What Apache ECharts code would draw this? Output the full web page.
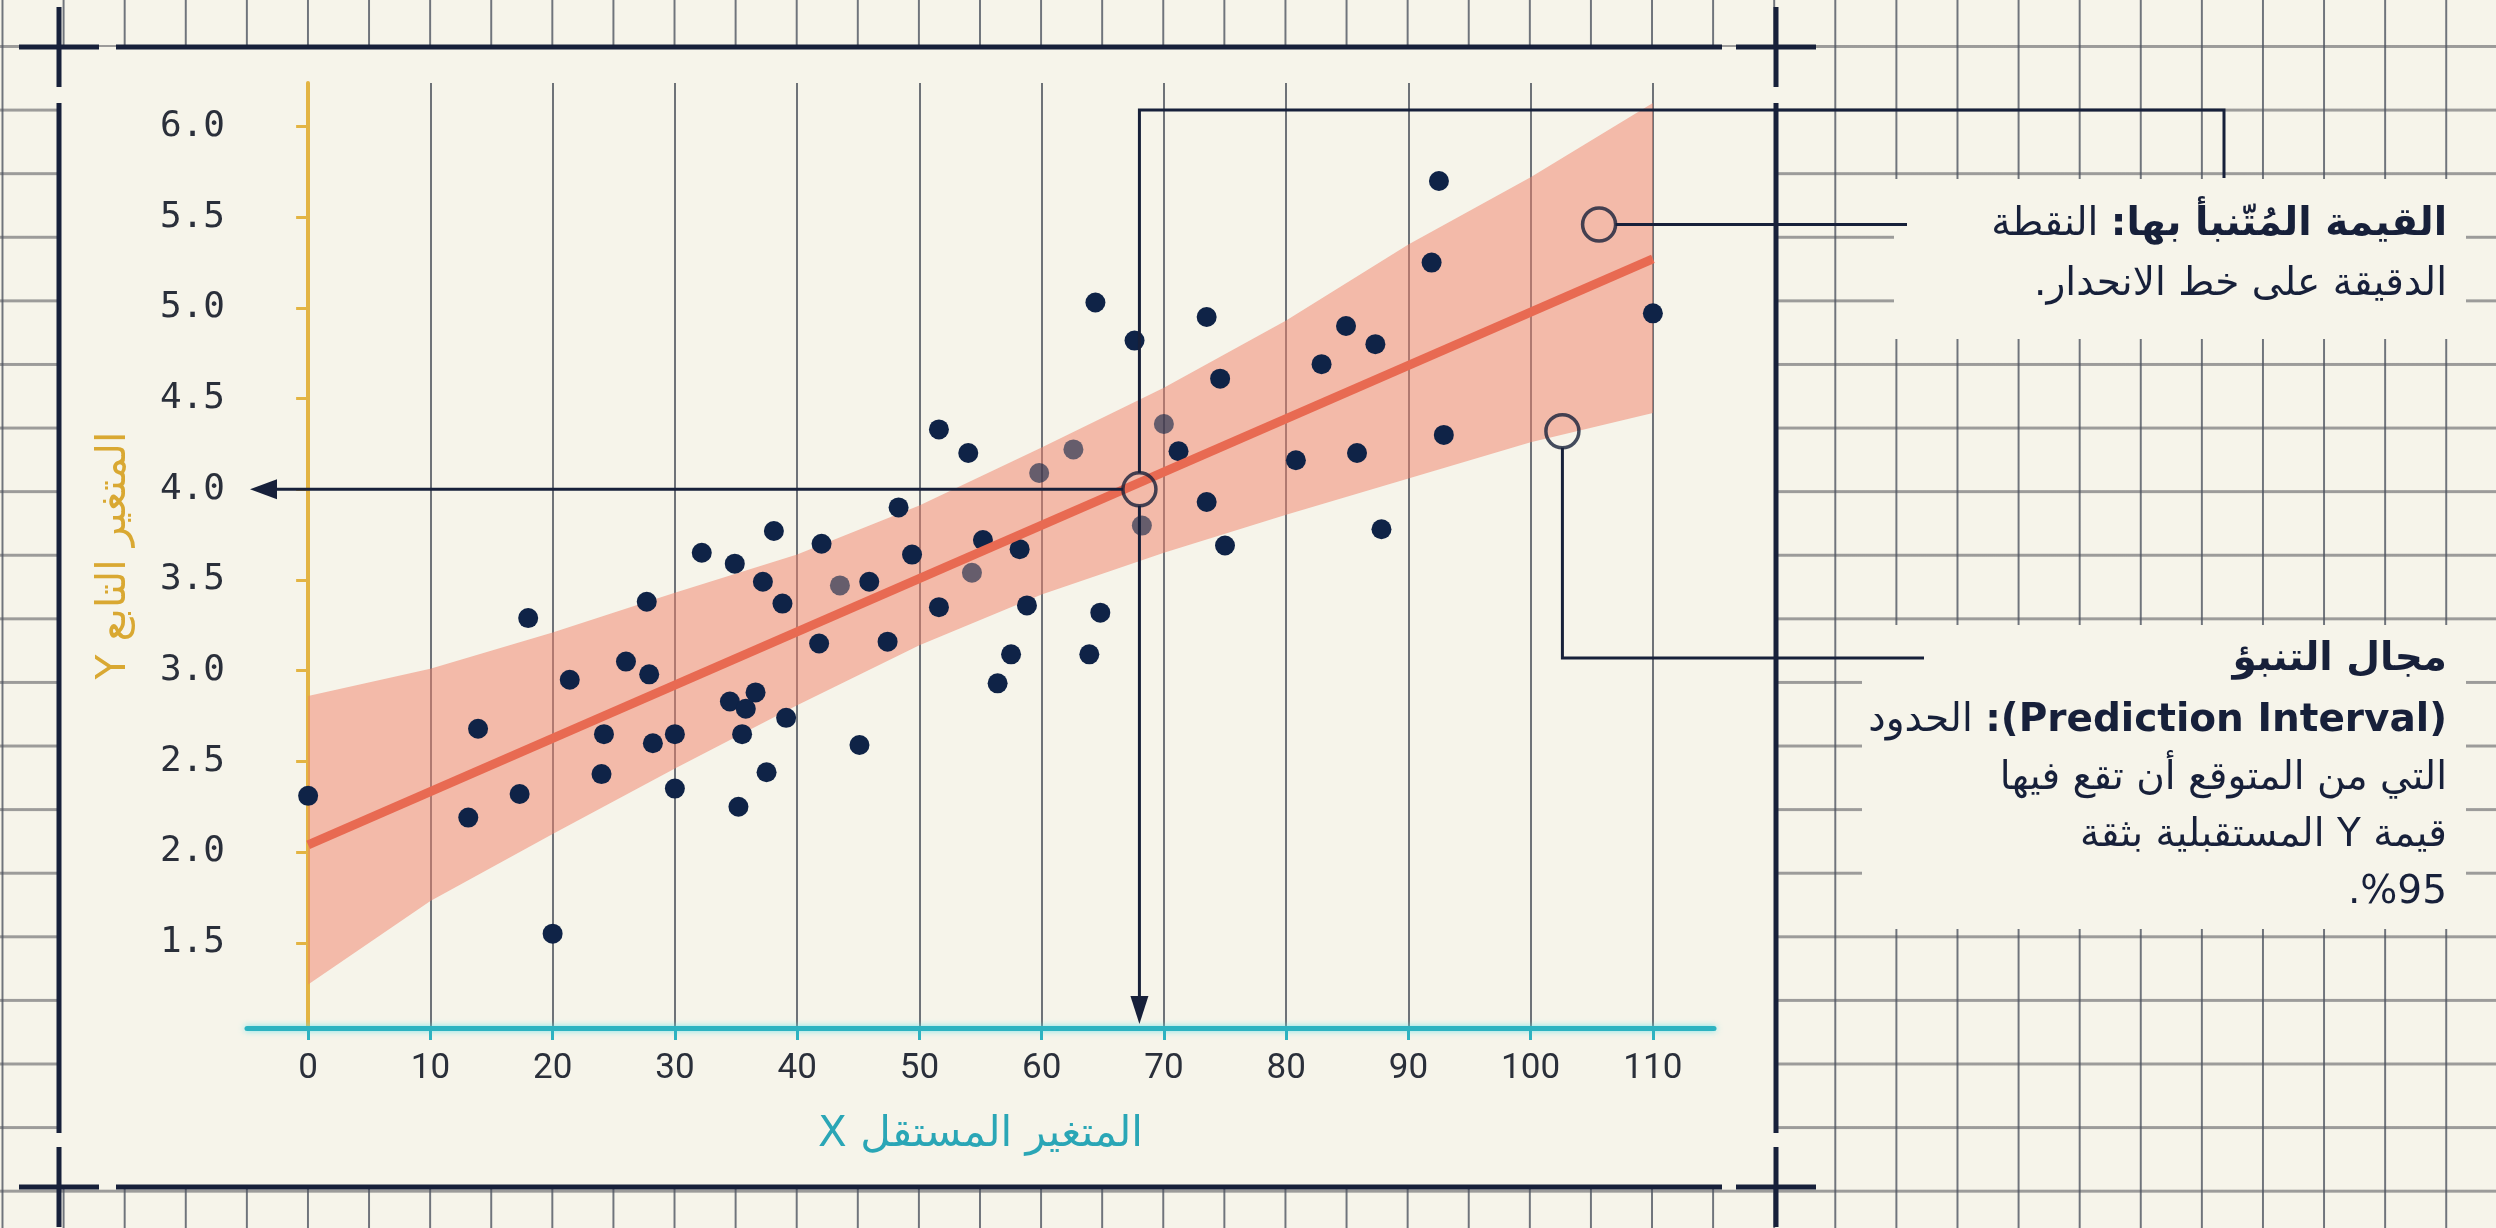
<!DOCTYPE html>
<html>
<head>
<meta charset="utf-8">
<script src="https://cdn.jsdelivr.net/npm/echarts@6/dist/echarts.min.js"></script>
<style>
  html, body { margin: 0; padding: 0; }
  body {
    width: 2496px; height: 1228px; overflow: hidden;
    background-color: #F6F4EA;
    background-image:
      linear-gradient(to right, rgba(78, 84, 96, 0.8) 2px, transparent 2px),
      linear-gradient(to bottom, rgba(140, 140, 140, 0.85) 3px, transparent 3px);
    background-size: 61.1px 63.6px;
    background-position: 1.5px 45px;
  }
  #chart { width: 2496px; height: 1228px; }
</style>
</head>
<body>
<div id="chart" dir="rtl"></div>
<script>
// observed points
const scatterX = [0, 13.1, 13.9, 17.3, 18, 20, 21.4, 24, 24.2, 26, 27.7, 27.9, 28.2,
  30, 30, 32.2, 34.5, 34.9, 35.2, 35.5, 35.8, 36.6, 37.2, 37.5, 38.1, 38.8, 39.1,
  41.8, 42, 45.1, 45.9, 47.4, 48.3, 49.4, 51.6, 51.6, 54, 55.2, 56.4, 57.5, 58.2, 58.8,
  63.9, 64.4, 64.8, 67.6, 71.2, 73.5, 73.5, 74.6, 75, 80.8, 82.9, 84.9, 85.8, 87.3, 87.8,
  91.9, 92.5, 92.9, 110];
const scatterY = [2.31, 2.19, 2.68, 2.32, 3.29, 1.55, 2.95, 2.43, 2.65, 3.05, 3.38, 2.98, 2.60,
  2.65, 2.35, 3.65, 2.83, 3.59, 2.25, 2.65, 2.79, 2.88, 3.49, 2.44, 3.77, 3.37, 2.74,
  3.15, 3.70, 2.59, 3.49, 3.16, 3.90, 3.64, 4.33, 3.35, 4.20, 3.72, 2.93, 3.09, 3.67, 3.36,
  3.09, 5.03, 3.32, 4.82, 4.21, 4.95, 3.93, 4.61, 3.69, 4.16, 4.69, 4.90, 4.20, 4.80, 3.78,
  5.25, 5.70, 4.30, 4.97];
// points that look faded in the picture
const fadedX = [43.5, 54.3, 59.8, 62.6, 68.2, 70];
const fadedY = [3.47, 3.54, 4.09, 4.22, 3.80, 4.36];

// regression line
const regX = [0, 110];
const regY = [2.04, 5.27];

// 95% prediction interval
const bandX = [0, 10, 20, 30, 40, 50, 60, 70, 80, 90, 100, 110];
const bandLower = [1.27, 1.73, 2.10, 2.46, 2.81, 3.14, 3.42, 3.65, 3.86, 4.06, 4.26, 4.42];
const bandUpper = [2.86, 3.01, 3.21, 3.43, 3.64, 3.91, 4.23, 4.56, 4.93, 5.35, 5.72, 6.13];

// predicted point and the two callout markers
const predX = 68;
const predY = 4.0;
const calloutX = [105.6, 102.6];
const calloutY = [5.46, 4.32];

const xTicks = [0, 10, 20, 30, 40, 50, 60, 70, 80, 90, 100, 110];
const yTicks = [1.5, 2.0, 2.5, 3.0, 3.5, 4.0, 4.5, 5.0, 5.5, 6.0];
const xMin = -5, xMax = 115, yMin = 1.03, yMax = 6.24;

const navy = '#17203A';
const cream = '#F6F4EA';
const arabicFont = '"DejaVu Sans", sans-serif';

const chart = echarts.init(document.getElementById('chart'));

chart.setOption({
  backgroundColor: 'transparent',
  animation: false,
  grid: { left: 247, right: 782, top: 83, bottom: 200 },
  xAxis: {
    type: 'value', min: xMin, max: xMax,
    name: 'المتغير المستقل X', nameLocation: 'middle', nameGap: 86,
    nameTextStyle: { color: '#2AA6B6', fontSize: 42, fontFamily: arabicFont },
    axisLine: { show: true, lineStyle: { color: '#2DB3C1', width: 5, shadowColor: 'rgba(90,225,235,0.8)', shadowBlur: 6 } },
    axisTick: { show: true, length: 12, customValues: xTicks, lineStyle: { color: '#2DB3C1', width: 3 } },
    axisLabel: { customValues: xTicks, margin: 24, color: '#2A2F3A', fontSize: 35,
      fontFamily: '"Liberation Sans Narrow", Roboto, sans-serif' },
    splitLine: { show: true, lineStyle: { color: '#6E7278', width: 2 } }
  },
  yAxis: {
    type: 'value', min: yMin, max: yMax,
    name: 'المتغير التابع Y', nameLocation: 'middle', nameGap: 112,
    nameTextStyle: { color: '#D9A832', fontSize: 41, fontFamily: arabicFont },
    axisLine: { show: true, lineStyle: { color: '#E3B443', width: 4 } },
    axisTick: { show: true, length: 12, customValues: yTicks, lineStyle: { color: '#E3B443', width: 3 } },
    axisLabel: { customValues: yTicks, margin: 22, color: '#2A2F3A', fontSize: 36,
      fontFamily: '"DejaVu Sans Mono", monospace', formatter: v => v.toFixed(1) },
    splitLine: { show: false }
  },
  series: [
    {
      name: 'band',
      type: 'custom',
      z: 1,
      silent: true,
      data: bandX.map((x, i) => [x, bandLower[i], bandUpper[i]]),
      encode: { x: 0, y: [1, 2] },
      renderItem: (params, api) => {
        if (params.dataIndex !== 0) return null;
        const top = bandX.map((x, i) => api.coord([x, bandUpper[i]]));
        const bottom = bandX.map((x, i) => api.coord([x, bandLower[i]])).reverse();
        return {
          type: 'polygon',
          shape: { points: top.concat(bottom) },
          style: { fill: 'rgba(240,128,104,0.5)' }
        };
      }
    },
    {
      name: 'observed',
      type: 'scatter',
      z: 3,
      symbolSize: 20,
      itemStyle: { color: '#0F2347', opacity: 1 },
      data: scatterX.map((x, i) => [x, scatterY[i]])
    },
    {
      name: 'observed faded',
      type: 'scatter',
      z: 3,
      symbolSize: 20,
      itemStyle: { color: '#0F2347', opacity: 0.62 },
      data: fadedX.map((x, i) => [x, fadedY[i]])
    },
    {
      name: 'regression',
      type: 'line',
      z: 4,
      symbol: 'none',
      lineStyle: { color: '#E86A52', width: 9 },
      data: regX.map((x, i) => [x, regY[i]])
    },
    {
      name: 'markers',
      type: 'scatter',
      z: 5,
      symbolSize: 33,
      itemStyle: { color: 'rgba(0,0,0,0)', borderColor: navy, borderWidth: 3.5 },
      data: [[predX, predY]].concat(calloutX.map((x, i) => [x, calloutY[i]]))
    }
  ]
});

function seg(points, width) {
  return { type: 'polyline', z: 20, shape: { points: points },
    style: { stroke: navy, lineWidth: width || 3, fill: null } };
}
function tri(points) {
  return { type: 'polygon', z: 20, shape: { points: points }, style: { fill: navy } };
}
function cross(cx, cy) {
  return [seg([[cx - 40, cy], [cx + 40, cy]], 5), seg([[cx, cy - 40], [cx, cy + 40]], 5)];
}
function textLine(x, y, rich) {
  return {
    type: 'text', z: 30, x: x, y: y,
    style: {
      text: rich, align: 'right', verticalAlign: 'middle',
      rich: {
        b: { fontSize: 39, fontWeight: 'bold', fontFamily: arabicFont, fill: navy },
        r: { fontSize: 39, fontFamily: arabicFont, fill: navy }
      }
    }
  };
}

const toPx = v => chart.convertToPixel({ gridIndex: 0 }, v);
const p = toPx([predX, predY]);
const axisLeft = toPx([xMin, predY]);
const axisBottom = toPx([predX, yMin]);
const up = toPx([calloutX[0], calloutY[0]]);
const lo = toPx([calloutX[1], calloutY[1]]);
const r = 16.5;
const topLeader = 110;
const textRight = 2447;

const graphics = [
  // paper cut-outs
  { type: 'rect', z: -100, shape: { x: 59, y: 47, width: 1717, height: 1140 }, style: { fill: cream } },
  { type: 'rect', z: -100, shape: { x: 1894, y: 179, width: 572, height: 160 }, style: { fill: cream } },
  { type: 'rect', z: -100, shape: { x: 1862, y: 625, width: 604, height: 304 }, style: { fill: cream } },
  // frame
  seg([[116, 47], [1722, 47]], 5),
  seg([[116, 1187], [1722, 1187]], 5),
  seg([[59, 103], [59, 1133]], 5),
  seg([[1776, 103], [1776, 1133]], 5)
].concat(cross(59, 47), cross(1776, 47), cross(59, 1187), cross(1776, 1187), [
  // arrow to the y axis
  seg([[p[0] - r, p[1]], [axisLeft[0] + 24, p[1]]]),
  tri([[axisLeft[0] + 3, p[1]], [axisLeft[0] + 30, p[1] - 10], [axisLeft[0] + 30, p[1] + 10]]),
  // arrow to the x axis and leader to the first note
  seg([[p[0], p[1] + r], [p[0], axisBottom[1] - 26]]),
  tri([[p[0], axisBottom[1] - 4], [p[0] - 9, axisBottom[1] - 32], [p[0] + 9, axisBottom[1] - 32]]),
  seg([[p[0], p[1] - r], [p[0], topLeader], [2224, topLeader], [2224, 178]]),
  // callout leaders
  seg([[up[0] + r, up[1]], [1907, up[1]]]),
  seg([[lo[0], lo[1] + r], [lo[0], 658], [1924, 658]]),
  // notes
  textLine(textRight, 225, '{r|النقطة}{r| }{b|القيمة المُتّنبأ بها:}'),
  textLine(textRight, 285, '{r|الدقيقة على خط الانحدار.}'),
  textLine(textRight, 660, '{b|مجال التنبؤ}'),
  textLine(textRight, 721, '{r|الحدود}{r| }{b|(Prediction Interval):}'),
  textLine(textRight, 779, '{r|التي من المتوقع أن تقع فيها}'),
  textLine(textRight, 836, '{r|قيمة Y المستقبلية بثقة}'),
  textLine(textRight, 893, '{r|%95.}')
]);

chart.setOption({ graphic: { elements: graphics } });
</script>
</body>
</html>
